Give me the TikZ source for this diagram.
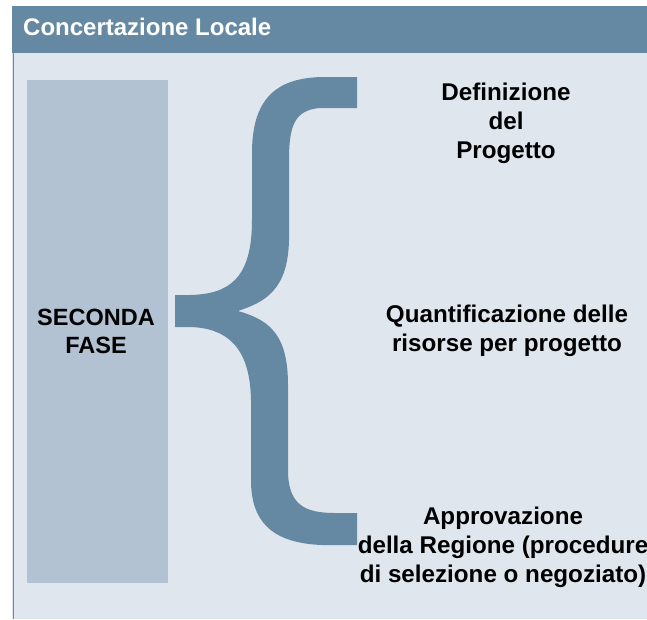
\documentclass[tikz,border=0pt]{standalone}
\usepackage{fontspec}
\setmainfont{Liberation Sans}
\definecolor{hdr}{HTML}{6689A3}
\definecolor{panel}{HTML}{DFE6EE}
\definecolor{fasebox}{HTML}{B2C2D3}
\definecolor{bracecol}{HTML}{6689A3}
\begin{document}
\begin{tikzpicture}[x=1pt,y=-1pt,
  lbl/.style={font=\fontsize{24.2}{29}\selectfont\bfseries, text=black, align=center, inner sep=0pt, anchor=base},
  faselbl/.style={font=\fontsize{23.5}{28}\selectfont\bfseries, text=black, align=center, inner sep=0pt, anchor=base},
  hdrtext/.style={font=\fontsize{24}{29}\selectfont\bfseries, text=white, inner sep=0pt, anchor=base west}]
\useasboundingbox (0,0) rectangle (647,619);
\fill[white] (0,0) rectangle (647,619);
% panel
\fill[panel] (12,53) rectangle (647,619);
\draw[hdr, line width=1.5pt] (13.5,53) -- (13.5,619);
% header
\fill[hdr] (12,6) rectangle (647,53);
\node[hdrtext] (title) at (23,35) {Concertazione Locale};
% phase box
\fill[fasebox] (27,80) rectangle (168,583);
\node[faselbl] (fase) at (96,353) {SECONDA\\FASE};
% brace
\fill[bracecol] (322,77) -- (357,77) -- (357,108) -- (320,108)
  .. controls (295,110) and (289,125) .. (289,160) -- (289,240)
  .. controls (288,290) and (265,302) .. (238,311)
  .. controls (270,320) and (288,335) .. (288,385) -- (288,470)
  .. controls (288,505) and (305,513) .. (335,513) -- (357,513) -- (357,545) -- (322,545)
  .. controls (270,543) and (251,520) .. (251,480) -- (251,400)
  .. controls (250,345) and (225,328) .. (190,327) -- (175,327) -- (175,295) -- (190,295)
  .. controls (228,294) and (252,280) .. (252,220) -- (252,150)
  .. controls (253,95) and (280,78) .. (322,77) -- cycle;
% labels
\node[lbl] (def) at (506,158) {Definizione\\del\\Progetto};
\node[lbl] (quant) at (507,351) {Quantificazione delle\\risorse per progetto};
\node[lbl] (appr) at (503,582) {Approvazione\\della Regione (procedure\\di selezione o negoziato)};
\end{tikzpicture}
\end{document}
